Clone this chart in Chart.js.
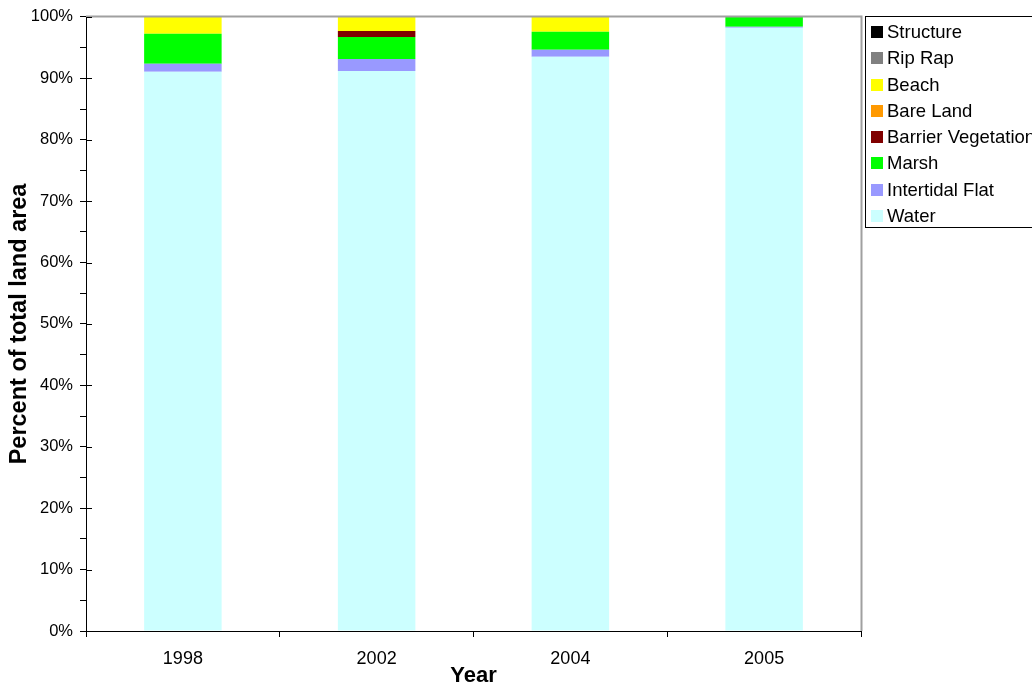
<!DOCTYPE html>
<html>
<head>
<meta charset="utf-8">
<title>Land cover by year</title>
<script src="https://cdn.jsdelivr.net/npm/chart.js@4.4.0/dist/chart.umd.min.js"></script>
<style>
  html, body { margin: 0; padding: 0; background: #fff; overflow: hidden; }
  #wrap { position: relative; width: 1032px; height: 687px; }
  #legend {
    position: absolute; left: 865px; top: 16px; width: 200px; height: 212px;
    border: 1px solid #000; box-sizing: border-box; padding-top: 2px;
    font-family: Arial, 'Liberation Sans', sans-serif; font-size: 18.5px; color: #000;
  }
  #legend .item { position: relative; height: 26.3px; line-height: 26.3px; white-space: nowrap; }
  #legend .swatch { position: absolute; left: 5px; top: 7px; width: 12px; height: 12px; }
  #legend .label { position: absolute; left: 21px; top: 0; }
</style>
</head>
<body>
<div id="wrap">
  <canvas id="chart" width="1032" height="687"></canvas>
  <div id="legend"></div>
</div>
<script>
// DATA (percent of total land area)
var YEARS = ['1998', '2002', '2004', '2005'];
var SERIES_NAMES = ['Water', 'Intertidal Flat', 'Marsh', 'Barrier Vegetation', 'Bare Land', 'Beach', 'Rip Rap', 'Structure'];

var WATER = [91.06, 91.2, 93.5, 98.25];
var INTERTIDAL_FLAT = [1.3, 1.95, 1.14, 0.15];
var MARSH = [4.88, 3.58, 2.93, 1.6];
var BARRIER_VEGETATION = [0, 0.98, 0, 0];
var BARE_LAND = [0, 0, 0, 0];
var BEACH = [2.76, 2.28, 2.44, 0];
var RIP_RAP = [0, 0, 0, 0];
var STRUCTURE = [0, 0, 0, 0];

var SERIES_VALUES = [WATER, INTERTIDAL_FLAT, MARSH, BARRIER_VEGETATION, BARE_LAND, BEACH, RIP_RAP, STRUCTURE];
var SERIES_COLORS = ['#ccffff', '#9999ff', '#00ff00', '#800000', '#ff9900', '#ffff00', '#808080', '#000000'];

var FONT = 'Arial, "Liberation Sans", sans-serif';

Chart.defaults.font.family = FONT;
Chart.defaults.color = '#000';

// gray frame on top/right of the plot, plus the inward half of the major y ticks
var plotFrame = {
  id: 'plotFrame',
  afterDraw: function (chart) {
    var a = chart.chartArea;
    var ctx = chart.ctx;
    var y = chart.scales.y;

    ctx.save();
    ctx.strokeStyle = '#a0a0a0';
    ctx.lineWidth = 2;
    ctx.beginPath();
    ctx.moveTo(a.left, a.top - 0.5);
    ctx.lineTo(a.right + 0.5, a.top - 0.5);
    ctx.lineTo(a.right + 0.5, a.bottom);
    ctx.stroke();

    ctx.strokeStyle = '#000';
    ctx.lineWidth = 1;
    ctx.beginPath();
    for (var v = 0; v <= 100; v += 10) {
      var py = Math.round(y.getPixelForValue(v)) + 0.5;
      ctx.moveTo(a.left, py);
      ctx.lineTo(a.left + 6, py);
    }
    ctx.stroke();
    ctx.restore();
  }
};

var datasets = SERIES_NAMES.map(function (name, i) {
  return {
    label: name,
    data: SERIES_VALUES[i],
    backgroundColor: SERIES_COLORS[i],
    borderWidth: 0,
    barPercentage: 0.4,
    categoryPercentage: 1
  };
});

var chart = new Chart(document.getElementById('chart'), {
  type: 'bar',
  data: { labels: YEARS, datasets: datasets },
  plugins: [plotFrame],
  options: {
    responsive: false,
    animation: false,
    devicePixelRatio: 1,
    events: [],
    layout: { padding: { top: 16, right: 171, left: 0, bottom: 0 } },
    plugins: {
      legend: { display: false },
      tooltip: { enabled: false }
    },
    scales: {
      x: {
        stacked: true,
        offset: true,
        grid: { offset: true, drawOnChartArea: false, tickLength: 6, color: '#000' },
        border: { color: '#000', width: 1 },
        ticks: { font: { size: 18 }, padding: 11 },
        title: { display: true, text: 'Year', font: { size: 22, weight: 'bold', lineHeight: 1 }, padding: 0 },
        afterFit: function (s) { s.height = 56; }
      },
      y: {
        stacked: true,
        min: 0,
        max: 100,
        grid: { drawOnChartArea: false, tickLength: 6, color: '#000' },
        border: { color: '#000', width: 1 },
        ticks: {
          stepSize: 5,
          autoSkip: false,
          font: { size: 16.5 },
          padding: 7,
          callback: function (v) { return v % 10 === 0 ? v + '%' : ''; }
        },
        title: { display: true, text: 'Percent of total land area', font: { size: 23.5, weight: 'bold', lineHeight: 1 }, padding: { top: 8 } },
        afterFit: function (s) { s.width = 86; }
      }
    }
  }
});

// LEGEND (top of stack first, as in the original)
var legend = document.getElementById('legend');
chart.data.datasets.slice().reverse().forEach(function (ds) {
  var item = document.createElement('div');
  item.className = 'item';
  var sw = document.createElement('span');
  sw.className = 'swatch';
  sw.style.background = ds.backgroundColor;
  var lb = document.createElement('span');
  lb.className = 'label';
  lb.textContent = ds.label;
  item.appendChild(sw);
  item.appendChild(lb);
  legend.appendChild(item);
});
</script>
</body>
</html>
